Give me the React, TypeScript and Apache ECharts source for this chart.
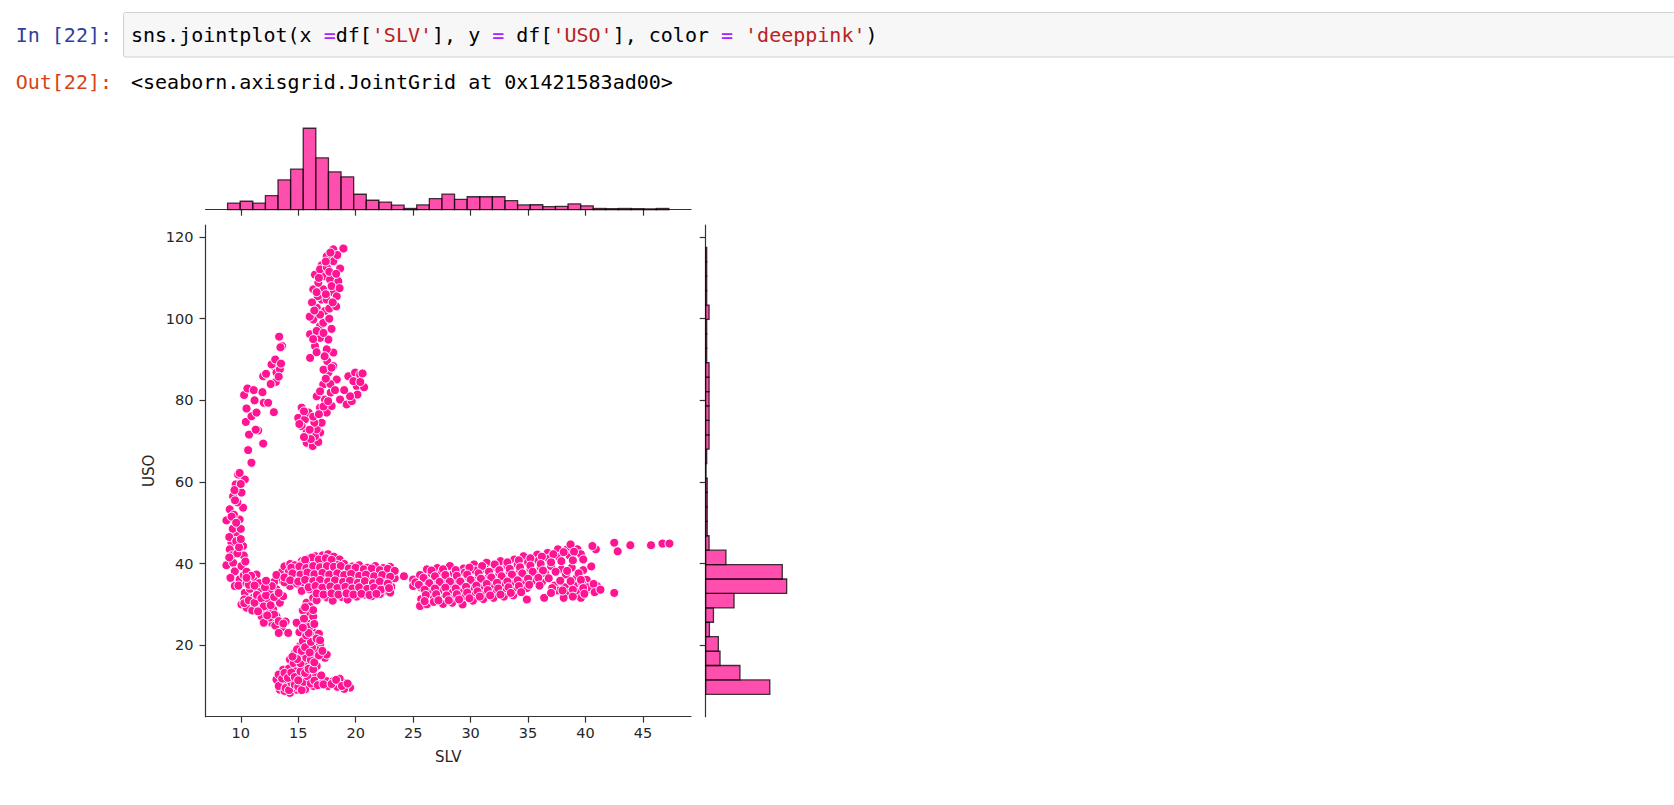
import React, { useEffect, useRef } from "react";
import * as echarts from "echarts";

// ---------- axes ----------
const slvTicks = [10, 15, 20, 25, 30, 35, 40, 45];
const usoTicks = [20, 40, 60, 80, 100, 120];
const slvMin = 6.93;
const slvMax = 49.18;
const usoMin = 2.48;
const usoMax = 122.96;

// ---------- marginal histograms ----------
const slvBinStart = 8.85;
const slvBinWidth = 1.0974;
const slvCounts = [32, 41, 32, 68, 145, 197, 396, 252, 184, 160, 75, 46, 37, 22, 6, 23, 54, 76, 50, 63, 63, 63, 44, 23, 24, 15, 16, 28, 19, 6, 5, 6, 5, 4, 6];
const usoBinStart = 7.96;
const usoBinWidth = 3.533;
const usoCounts = [380, 203, 85, 75, 22, 46, 168, 480, 454, 120, 20, 9, 9, 9, 9, 2, 6, 20, 20, 20, 20, 20, 20, 6, 6, 6, 20, 6, 6, 6, 6];

// ---------- scatter (SLV, USO) ----------
const leftArm = [[8.75,50.6],[9.04,53.3],[9.33,56.5],[9.56,59.4],[9.77,61.8],[10.35,60.6],[10.06,57.4],[10.2,53.7],[9.9,50.8],[9.62,47.5],[9.19,45.1],[9.04,43.5],[8.75,39.6],[9.33,40.2],[9.48,38.1],[9.48,34.5],[9.9,36.1],[10.2,44.3],[10.26,42.0],[10.06,39.4],[10.26,37.1],[9.3,48.5],[9.7,55.0],[9.4,52.0],[10.0,59.5],[9.2,42.0],[9.7,42.5],[9.0,46.5],[10.4,40.5],[9.8,34.6],[10.5,38.0],[9.1,36.5],[10.0,48.5],[9.5,55.5],[9.9,62.2],[10.5,35.2],[9.2,51.5],[9.6,50.0],[9.0,41.5],[9.6,45.5],[9.85,44.0],[10.0,46.0],[9.45,58.0]];
const upperArm = [[10.93,64.7],[10.64,67.8],[10.72,71.6],[10.44,74.7],[10.93,76.1],[10.29,81.3],[10.58,82.9],[11.13,82.5],[11.51,72.6],[11.95,69.4],[11.89,82.0],[11.95,85.9],[12.0,79.4],[12.38,79.4],[12.88,77.1],[12.88,88.4],[13.11,86.8],[13.05,84.5],[13.4,87.6],[13.34,95.6],[13.6,93.3],[12.68,88.8],[11.37,77.0],[11.3,72.8],[13.3,85.8],[13.45,93.0],[11.2,80.0],[12.2,86.5],[12.6,84.0],[13.0,90.0],[13.5,89.0],[10.5,78.0]];
const topCluster = [[15.3,78.2],[15.0,75.7],[15.58,75.3],[15.3,73.7],[15.73,72.1],[15.73,69.6],[16.26,68.8],[16.75,69.8],[16.9,72.1],[16.46,71.2],[16.61,72.9],[17.04,74.5],[17.48,77.0],[17.91,78.6],[17.33,80.2],[16.61,81.0],[17.18,83.9],[17.83,81.9],[17.62,86.8],[18.35,85.1],[17.53,89.6],[18.05,91.7],[17.62,94.9],[16.9,95.3],[16.46,93.3],[16.03,96.2],[16.03,90.4],[16.9,98.2],[16.31,99.8],[16.61,102.7],[17.33,101.9],[17.04,104.7],[16.31,107.2],[16.46,110.8],[17.18,110.4],[17.77,109.6],[17.18,107.2],[18.05,106.4],[18.35,105.5],[18.49,109.2],[18.64,112.3],[18.05,114.1],[17.48,115.3],[17.04,113.1],[18.05,117.0],[18.93,117.2],[16.9,78.2],[18.05,88.4],[17.48,92.5],[17.18,99.0],[16.75,108.8],[16.9,112.1],[17.48,104.7],[16.1,70.5],[16.4,74.5],[15.9,77.0],[16.0,100.5],[16.6,97.0],[17.7,102.5],[17.9,97.5],[17.8,84.0],[18.2,82.5],[17.2,87.5],[18.3,103.0],[17.5,112.5],[16.7,105.5],[16.2,104.0]];
const topFill = [[15.5,77.3],[15.1,74.2],[15.5,71.0],[16.0,72.8],[16.3,76.0],[16.8,76.6],[17.2,78.5],[17.6,79.8],[16.9,82.2],[17.4,85.3],[17.9,88.0],[17.3,90.8],[16.6,91.8],[16.3,95.0],[17.2,96.5],[17.7,100.0],[16.9,101.0],[16.4,102.0],[16.6,106.5],[17.4,106.0],[17.9,108.0],[16.8,110.0],[17.7,111.5],[18.3,111.0],[17.4,114.0],[18.4,115.6],[17.8,116.2],[18.6,107.5],[18.0,104.0]];
const topRight = [[18.64,80.2],[19.22,79.0],[19.66,79.8],[19.36,85.9],[19.95,86.8],[20.38,86.3],[20.09,83.5],[20.73,83.2],[20.15,81.4],[19.8,84.7],[19.51,81.0],[20.4,84.5],[19.0,82.5],[20.6,86.6]];
const transition = [[10.06,30.0],[10.5,29.2],[11.07,31.6],[11.37,37.3],[11.07,36.1],[10.35,32.8],[11.95,32.4],[12.24,28.3],[11.81,27.1],[12.82,28.8],[12.68,25.5],[13.55,24.3],[14.13,23.0],[14.86,25.5],[13.11,27.1],[13.4,30.4],[13.11,33.7],[13.4,36.1],[13.99,38.6],[13.69,32.0],[14.28,34.5],[15.0,39.8],[14.56,36.5],[15.15,34.5],[10.8,33.8],[11.3,29.5],[11.6,30.8],[12.1,30.5],[12.5,26.8],[13.0,24.8],[13.9,25.8],[12.5,33.5],[12.9,35.5],[13.6,38.0],[12.4,31.2],[10.3,31.2],[11.5,33.5],[14.0,36.8],[14.6,38.8],[12.0,25.5],[13.3,23.0],[11.0,28.5],[11.6,35.2],[10.9,37.0]];
const transitionFill = [[10.3,30.3],[10.7,31.0],[11.2,30.4],[11.4,32.3],[11.8,31.5],[12.2,32.2],[12.0,29.5],[12.6,29.8],[12.9,27.5],[13.3,25.9],[13.7,25.3],[11.5,28.3],[12.3,27.3],[12.9,31.8],[13.3,32.8],[12.7,34.5],[13.1,37.2],[13.8,35.4],[14.3,37.5],[13.8,39.3],[14.3,39.9],[10.7,34.8],[10.5,36.5],[11.2,34.6],[12.1,34.2],[12.2,35.8]];
const lowCluster = [[15.73,30.4],[15.87,27.9],[15.73,25.5],[16.17,23.8],[16.31,22.2],[16.61,20.2],[16.9,20.2],[17.33,16.9],[17.48,17.7],[15.15,19.8],[14.71,18.1],[14.28,16.5],[13.69,14.0],[13.11,11.6],[13.4,9.1],[14.28,8.3],[14.86,9.1],[15.73,10.8],[16.31,10.0],[16.9,10.8],[17.48,11.2],[18.05,11.2],[18.93,10.8],[19.51,9.6],[15.44,14.0],[16.17,13.2],[15.58,18.1],[16.31,17.3],[15.0,14.9],[14.56,11.6],[13.99,12.4],[15.15,10.8],[16.61,14.9],[13.5,10.5],[13.8,8.8],[14.0,10.2],[14.5,9.5],[14.9,12.8],[15.3,12.2],[15.6,9.2],[16.0,11.8],[15.9,15.8],[16.5,12.2],[17.0,12.6],[17.6,10.0],[18.4,9.8],[18.6,11.8],[19.0,9.3],[14.2,14.3],[14.6,15.6],[15.2,17.0],[15.9,21.5],[16.6,18.8],[15.4,21.0],[14.8,13.6],[16.2,19.5],[15.1,23.2],[14.0,11.3],[13.3,12.8],[16.8,22.8],[15.5,16.0],[16.3,27.0],[16.0,29.5],[15.4,28.5]];
const lowFill = [[13.3,10.0],[13.6,11.8],[13.9,9.5],[14.2,9.0],[14.4,10.8],[14.7,10.3],[15.0,9.8],[15.3,9.0],[15.5,11.0],[15.8,12.4],[16.1,10.6],[16.4,11.3],[16.7,10.2],[17.2,10.4],[17.9,10.5],[18.3,11.5],[18.8,10.0],[19.3,10.6],[13.8,13.2],[14.1,12.0],[14.4,13.3],[14.7,12.2],[15.0,11.4],[15.2,13.6],[15.6,13.2],[15.9,14.2],[16.3,14.1],[15.2,15.6],[15.7,16.9],[16.1,16.4],[16.4,15.8],[14.9,16.6],[14.5,17.2],[14.9,19.0],[15.3,18.6],[15.6,19.5],[16.0,18.2],[16.8,17.5],[17.1,18.6],[16.1,20.8],[15.7,22.4],[16.6,21.6],[16.0,24.5],[16.4,25.2],[15.5,26.5],[15.9,23.0],[15.4,24.3],[16.3,28.6],[15.6,29.3],[16.9,21.2]];
const midBand = [[15.9,41.2],[16.5,41.8],[17.1,42.0],[17.6,42.3],[18.1,41.7],[18.6,41.0],[15.3,40.6],[14.7,39.6],[15.4,40.1],[16.0,39.8],[16.6,40.5],[17.2,39.9],[17.8,40.6],[18.4,39.7],[19.0,39.9],[19.7,39.3],[20.3,39.6],[21.0,39.0],[21.7,39.4],[22.4,38.9],[23.0,39.2],[14.2,38.1],[14.9,38.4],[15.5,37.9],[16.1,38.6],[16.8,38.2],[17.4,38.7],[18.0,38.0],[18.7,38.5],[19.3,37.9],[19.9,38.3],[20.6,37.8],[21.2,38.2],[21.9,37.7],[22.6,38.1],[23.2,37.6],[13.8,36.6],[14.5,36.9],[15.1,36.4],[15.7,37.0],[16.3,36.5],[17.0,36.9],[17.6,36.3],[18.2,36.8],[18.9,36.2],[19.5,36.7],[20.1,36.1],[20.8,36.6],[21.4,36.0],[22.1,36.5],[22.7,35.9],[23.4,36.4],[14.9,35.1],[15.6,34.8],[16.2,35.3],[16.8,34.9],[17.5,35.4],[18.1,34.8],[18.7,35.2],[19.4,34.7],[20.0,35.1],[20.6,34.6],[21.3,35.0],[21.9,34.5],[22.5,34.9],[23.1,34.3],[15.3,33.3],[16.0,33.7],[16.7,33.2],[17.3,33.6],[17.9,33.1],[18.6,33.5],[19.2,33.0],[19.8,33.4],[20.5,32.9],[21.1,33.3],[21.7,32.8],[22.4,33.2],[23.0,32.9],[16.3,31.6],[16.9,32.1],[17.5,31.7],[18.2,32.2],[18.8,31.8],[19.5,32.3],[20.1,31.9],[20.8,32.4],[21.4,32.0],[22.1,32.5],[16.6,31.0],[18.0,30.9],[19.3,31.2],[24.2,36.9],[25.0,36.1],[25.0,34.5]];
const midFill = [[16.2,41.5],[16.8,41.0],[17.4,41.3],[17.9,40.9],[15.6,40.9],[14.4,39.0],[15.1,39.3],[15.7,38.9],[16.3,39.4],[16.9,39.1],[17.5,39.4],[18.1,39.2],[18.7,39.4],[19.4,38.8],[20.0,39.0],[20.7,38.6],[21.4,38.8],[22.1,38.4],[22.8,38.7],[23.4,38.2],[14.5,37.6],[15.2,37.3],[15.8,37.8],[16.4,37.4],[17.1,37.7],[17.7,37.3],[18.4,37.6],[19.0,37.2],[19.6,37.5],[20.3,37.0],[20.9,37.3],[21.6,36.9],[22.3,37.2],[23.0,36.8],[14.3,35.9],[15.0,35.6],[15.6,36.0],[16.3,35.7],[16.9,36.0],[17.6,35.6],[18.2,35.9],[18.9,35.5],[19.5,35.8],[20.2,35.3],[20.8,35.7],[21.5,35.2],[22.1,35.6],[22.8,35.1],[15.9,34.2],[16.5,34.5],[17.1,34.1],[17.8,34.4],[18.4,34.0],[19.1,34.3],[19.7,33.9],[20.3,34.2],[21.0,33.8],[21.6,34.1],[22.2,33.6],[22.9,34.0],[16.6,32.7],[17.2,32.4],[17.9,32.7],[18.5,32.4],[19.2,32.7],[19.8,32.4],[20.5,32.6],[21.2,32.3],[21.8,32.6]];
const rightBand = [[26.2,38.6],[27.1,38.9],[28.2,39.4],[29.4,38.8],[30.3,39.8],[31.4,40.2],[32.6,40.6],[33.8,41.0],[34.6,41.8],[35.8,42.2],[36.7,42.6],[37.6,43.5],[38.4,43.5],[39.3,43.5],[38.7,44.7],[25.6,37.2],[26.6,37.6],[27.5,37.9],[28.5,37.5],[29.5,37.8],[30.4,38.3],[31.3,38.6],[32.2,39.1],[33.2,39.4],[34.1,39.8],[35.0,40.3],[35.9,40.7],[36.8,41.2],[37.7,41.6],[38.6,42.0],[39.6,42.3],[25.2,35.4],[26.1,35.9],[27.0,36.2],[27.9,36.4],[28.8,36.1],[29.8,36.6],[30.7,36.9],[31.6,37.3],[32.5,37.6],[33.4,38.0],[34.3,38.3],[35.2,38.7],[36.1,39.1],[37.0,39.4],[37.9,38.6],[38.8,39.0],[39.8,38.4],[40.5,39.3],[25.7,34.1],[26.6,34.5],[27.5,34.8],[28.4,34.5],[29.3,34.9],[30.2,35.3],[31.1,35.6],[32.0,35.9],[32.9,36.2],[33.8,36.5],[34.7,36.9],[35.6,37.3],[36.5,37.6],[38.3,37.3],[39.2,36.4],[40.1,36.0],[26.3,33.0],[27.2,33.2],[28.1,32.9],[29.0,33.3],[29.9,33.7],[30.8,34.0],[31.7,34.4],[32.6,34.7],[33.5,35.0],[34.4,35.3],[35.3,35.6],[36.2,35.4],[37.3,34.6],[38.2,34.2],[39.0,34.6],[39.7,35.2],[40.5,33.7],[41.0,34.5],[25.7,31.3],[26.8,31.8],[27.7,31.4],[28.6,31.7],[29.5,32.0],[30.4,32.4],[31.3,32.7],[32.2,33.0],[33.1,33.3],[34.0,33.6],[34.9,34.0],[37.6,33.4],[38.6,32.8],[39.3,33.0],[40.2,34.2],[25.6,29.6],[26.2,30.0],[26.8,30.6],[27.6,30.1],[28.4,30.4],[29.3,30.0],[30.2,30.9],[31.1,31.3],[32.0,31.6],[32.9,31.9],[33.7,32.2],[38.1,31.6],[39.6,31.6],[34.9,31.2],[36.4,31.6],[42.5,32.8],[40.9,43.5],[40.6,44.3],[42.5,45.1],[42.8,43.0],[43.9,44.5],[45.7,44.5],[46.7,44.9],[47.3,44.9]];
const rightFill = [[26.6,38.3],[27.6,38.6],[28.7,38.4],[29.9,39.0],[31.0,39.4],[32.1,39.8],[33.2,40.3],[34.2,40.8],[35.2,41.3],[36.2,41.7],[37.2,42.3],[38.1,42.8],[39.0,42.9],[25.9,36.5],[26.9,36.9],[27.8,37.2],[28.8,37.0],[29.7,37.3],[30.7,37.6],[31.6,38.0],[32.5,38.4],[33.4,38.7],[34.3,39.1],[35.2,39.5],[36.1,39.9],[37.0,40.3],[37.9,40.6],[38.9,40.8],[39.8,41.0],[25.5,34.8],[26.4,35.2],[27.3,35.5],[28.2,35.6],[29.1,35.6],[30.0,36.0],[30.9,36.3],[31.8,36.6],[32.7,36.9],[33.6,37.3],[34.5,37.6],[35.4,38.0],[36.3,38.3],[37.4,38.0],[38.4,38.2],[39.4,37.6],[26.0,33.6],[26.9,33.9],[27.8,34.1],[28.7,33.9],[29.6,34.3],[30.5,34.6],[31.4,35.0],[32.3,35.3],[33.2,35.6],[34.1,35.9],[35.0,36.3],[35.9,36.5],[36.8,36.4],[37.8,35.8],[38.7,35.7],[39.6,36.0],[26.1,32.3],[27.0,32.5],[27.9,32.2],[28.8,32.5],[29.7,32.9],[30.6,33.2],[31.5,33.5],[32.4,33.9],[33.3,34.2],[34.2,34.5],[35.1,34.8],[36.0,34.6],[37.1,34.0],[38.0,33.4],[38.9,33.6],[39.8,34.0],[40.7,35.0],[26.0,30.8],[27.2,31.0],[28.1,31.0],[29.0,31.2],[29.9,31.5],[30.8,31.9],[31.7,32.2],[32.6,32.4],[33.5,32.8],[34.4,33.0],[37.0,32.8],[38.9,31.9],[39.9,32.6],[40.8,33.0],[41.3,33.6]];

const PINK = "#FF1493";
const BAR_FILL = "rgba(255,20,147,0.75)";
const BAR_EDGE = "rgba(0,0,0,0.75)";
const SPINE = "#333333";
const TEXT = "#262626";

export default function App() {
  const ref = useRef<HTMLDivElement>(null);

  useEffect(() => {
    if (!ref.current) return;
    const chart = echarts.init(ref.current, undefined, { renderer: "svg" });

    const points = [
      ...leftArm, ...upperArm, ...topCluster, ...topFill, ...topRight,
      ...transition, ...transitionFill, ...lowCluster, ...lowFill,
      ...midBand, ...midFill, ...rightBand, ...rightFill,
    ];
    const slvBins = slvCounts.map((c, i) => [slvBinStart + i * slvBinWidth, slvBinStart + (i + 1) * slvBinWidth, c]);
    const usoBins = usoCounts.map((c, i) => [c, usoBinStart + i * usoBinWidth, usoBinStart + (i + 1) * usoBinWidth]);

    const spine = { show: true, onZero: false, lineStyle: { color: SPINE, width: 1.2 } };
    const tickStyle = { color: SPINE, width: 1.2 };
    const mono = "'DejaVu Sans Mono', 'Liberation Mono', monospace";
    const sans = "'DejaVu Sans', sans-serif";

    const option: any = {
      animation: false,
      backgroundColor: "#ffffff",
      textStyle: { fontFamily: sans },
      grid: [
        { left: 205.5, top: 225, width: 485.5, height: 491.7, containLabel: false, outerBoundsMode: "none" },
        { left: 205.5, top: 112, width: 485.5, height: 97.7, containLabel: false, outerBoundsMode: "none" },
        { left: 705.7, top: 225, width: 97, height: 491.7, containLabel: false, outerBoundsMode: "none" },
      ],
      xAxis: [
        {
          gridIndex: 0, type: "value", min: slvMin, max: slvMax,
          axisLine: spine,
          axisTick: { show: true, customValues: slvTicks, length: 6, lineStyle: tickStyle },
          axisLabel: { customValues: slvTicks, fontSize: 14.5, color: TEXT, margin: 9, fontFamily: sans },
          splitLine: { show: false },
          name: "SLV", nameLocation: "middle", nameGap: 33,
          nameTextStyle: { fontSize: 15, color: TEXT, fontFamily: sans },
        },
        {
          gridIndex: 1, type: "value", min: slvMin, max: slvMax,
          axisLine: spine,
          axisTick: { show: true, customValues: slvTicks, length: 6, lineStyle: tickStyle },
          axisLabel: { show: false },
          splitLine: { show: false },
        },
        { gridIndex: 2, type: "value", min: 0, max: 575, show: false },
      ],
      yAxis: [
        {
          gridIndex: 0, type: "value", min: usoMin, max: usoMax,
          axisLine: spine,
          axisTick: { show: true, customValues: usoTicks, length: 6, lineStyle: tickStyle },
          axisLabel: { customValues: usoTicks, fontSize: 14.5, color: TEXT, margin: 12, fontFamily: sans },
          splitLine: { show: false },
          name: "USO", nameLocation: "middle", nameGap: 49,
          nameTextStyle: { fontSize: 15, color: TEXT, fontFamily: sans },
        },
        { gridIndex: 1, type: "value", min: 0, max: 475, show: false },
        {
          gridIndex: 2, type: "value", min: usoMin, max: usoMax,
          axisLine: spine,
          axisTick: { show: true, customValues: usoTicks, length: 6, lineStyle: tickStyle },
          axisLabel: { show: false },
          splitLine: { show: false },
        },
      ],
      series: [
        {
          type: "scatter", xAxisIndex: 0, yAxisIndex: 0, data: points,
          symbol: "circle", symbolSize: 9,
          itemStyle: { color: PINK, borderColor: "#ffffff", borderWidth: 1, opacity: 1 },
          emphasis: { disabled: true },
        },
        {
          type: "custom", xAxisIndex: 1, yAxisIndex: 1, data: slvBins,
          encode: { x: [0, 1], y: 2 },
          renderItem: (_p: any, api: any) => {
            const a = api.coord([api.value(0), api.value(2)]);
            const b = api.coord([api.value(1), 0]);
            return {
              type: "rect",
              shape: { x: a[0], y: a[1], width: b[0] - a[0], height: b[1] - a[1] },
              style: { fill: BAR_FILL, stroke: BAR_EDGE, lineWidth: 1.3 },
            };
          },
        },
        {
          type: "custom", xAxisIndex: 2, yAxisIndex: 2, data: usoBins,
          encode: { x: 0, y: [1, 2] },
          renderItem: (_p: any, api: any) => {
            const a = api.coord([0, api.value(2)]);
            const b = api.coord([api.value(0), api.value(1)]);
            return {
              type: "rect",
              shape: { x: a[0], y: a[1], width: b[0] - a[0], height: b[1] - a[1] },
              style: { fill: BAR_FILL, stroke: BAR_EDGE, lineWidth: 1.3 },
            };
          },
        },
      ],
      graphic: [
        {
          type: "rect", left: 123, top: 12,
          shape: { x: 0, y: 0, width: 1560, height: 44.5, r: 2 },
          style: { fill: "#f7f7f7", stroke: "#cfcfcf", lineWidth: 1 },
        },
        {
          type: "text", x: 112, y: 35,
          style: { text: "In [22]:", fill: "#303F9F", font: `20px ${mono}`, align: "right", verticalAlign: "middle" },
        },
        {
          type: "text", x: 131, y: 35,
          style: {
            text: "{k|sns.jointplot(x }{o|=}{k|df[}{s|'SLV'}{k|], y }{o|= }{k|df[}{s|'USO'}{k|], color }{o|= }{s|'deeppink'}{k|)}",
            font: `20px ${mono}`, verticalAlign: "middle", align: "left",
            rich: {
              k: { fill: "#000000", fontFamily: mono, fontSize: 20 },
              o: { fill: "#AA22FF", fontFamily: mono, fontSize: 20 },
              s: { fill: "#BA2121", fontFamily: mono, fontSize: 20 },
            },
          },
        },
        {
          type: "text", x: 112, y: 82,
          style: { text: "Out[22]:", fill: "#D84315", font: `20px ${mono}`, align: "right", verticalAlign: "middle" },
        },
        {
          type: "text", x: 131, y: 82,
          style: { text: "<seaborn.axisgrid.JointGrid at 0x1421583ad00>", fill: "#000000", font: `20px ${mono}`, align: "left", verticalAlign: "middle" },
        },
      ],
    };

    chart.setOption(option);
    return () => chart.dispose();
  }, []);

  return (
    <div
      ref={ref}
      style={{ position: "absolute", left: 0, top: 0, width: 1674, height: 805, background: "#ffffff" }}
    />
  );
}
